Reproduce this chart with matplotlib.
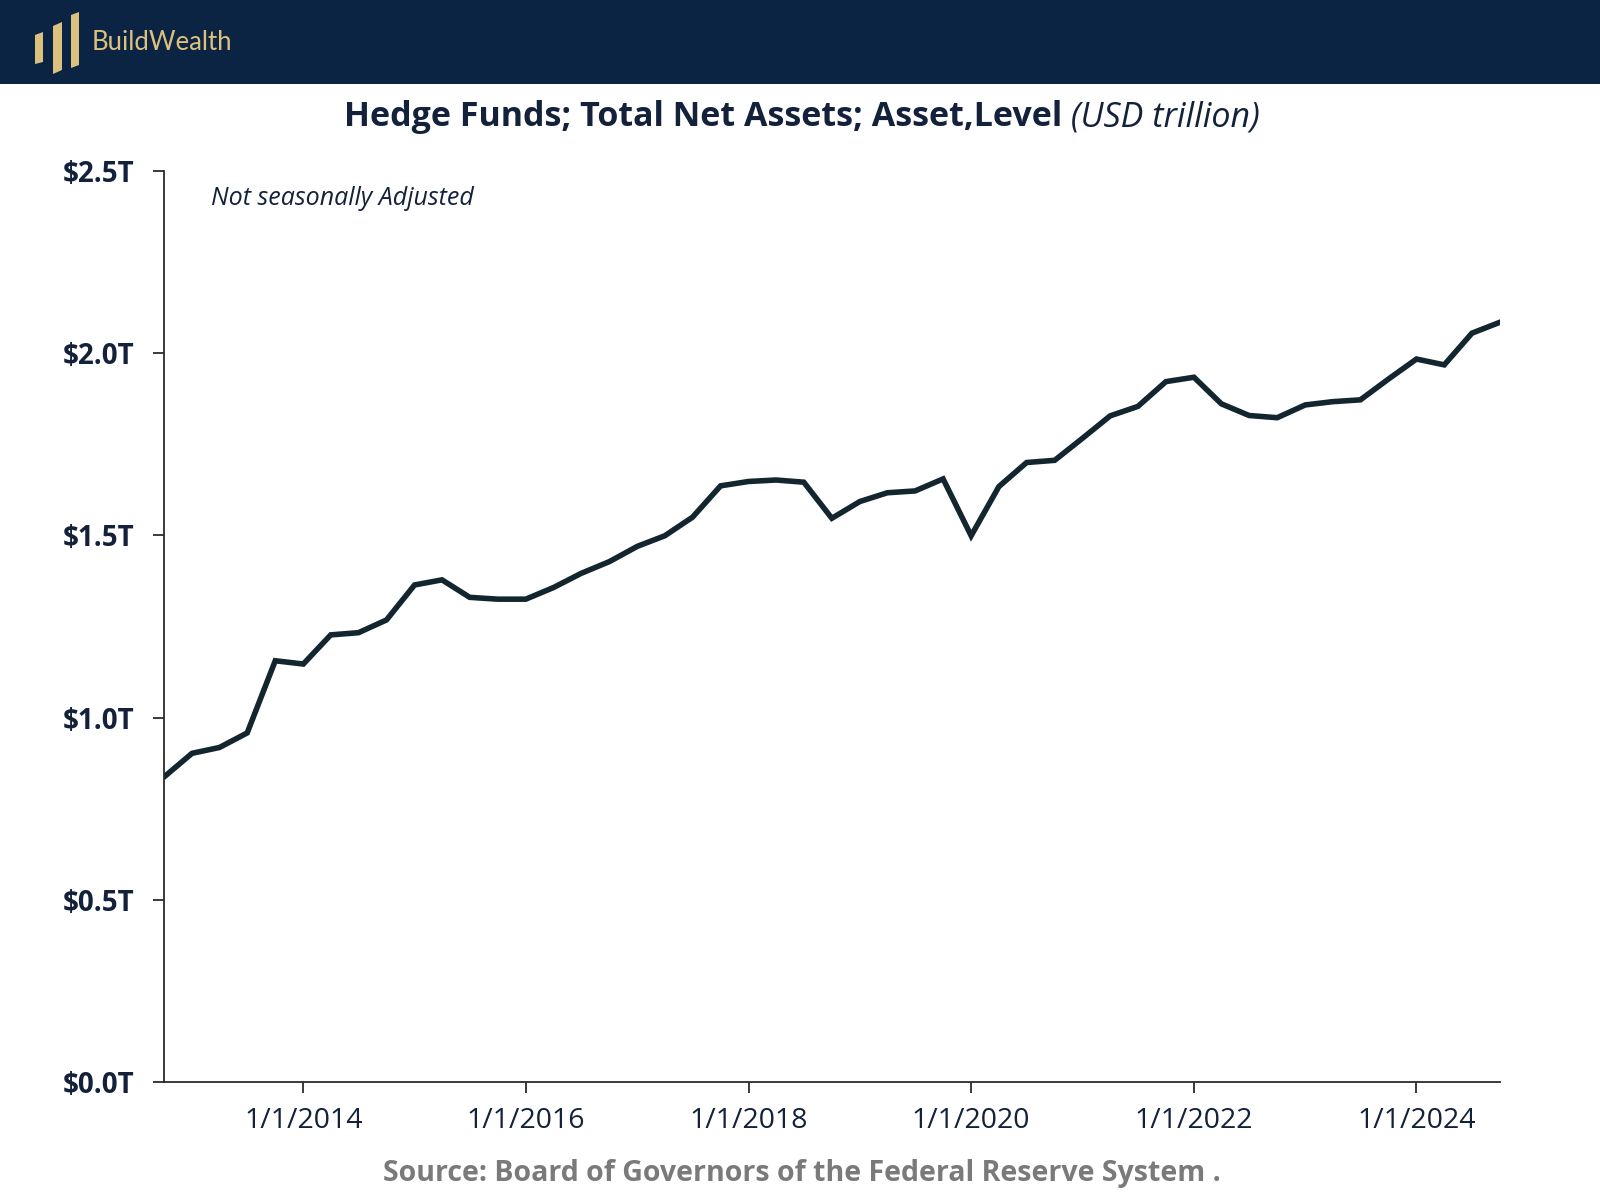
import matplotlib
matplotlib.use("Agg")
import matplotlib.pyplot as plt
from matplotlib.patches import Rectangle, Polygon
import pandas as pd

# quarterly, 10/1/2012 .. 10/1/2024, USD trillion
dates = pd.date_range("2012-10-01", periods=49, freq="QS")
assets = [0.837, 0.902, 0.918, 0.958, 1.156, 1.147, 1.227, 1.233, 1.268, 1.364,
          1.378, 1.330, 1.325, 1.325, 1.357, 1.396, 1.428, 1.470, 1.499, 1.550,
          1.636, 1.648, 1.652, 1.646, 1.547, 1.593, 1.617, 1.622, 1.655, 1.499,
          1.634, 1.700, 1.706, 1.767, 1.828, 1.854, 1.922, 1.934, 1.861, 1.829,
          1.823, 1.858, 1.867, 1.872, 1.929, 1.984, 1.968, 2.055, 2.085]

y_ticks = [0.0, 0.5, 1.0, 1.5, 2.0, 2.5]
y_labels = ["$0.0T", "$0.5T", "$1.0T", "$1.5T", "$2.0T", "$2.5T"]
x_tick_years = [2014, 2016, 2018, 2020, 2022, 2024]

navy = "#0c2444"
gold = "#dcc17e"
ink = "#13252f"
dark = "#2b2b2b"

plt.rcParams["font.family"] = ["Open Sans", "DejaVu Sans"]

fig = plt.figure(figsize=(16, 12), dpi=100)
W, H = 1600, 1200

# header band
fig.patches.append(Rectangle((0, 1 - 84 / H), 1, 84 / H, transform=fig.transFigure,
                             facecolor=navy, edgecolor="none", zorder=0))

def px(x, y):
    return (x / W, 1 - y / H)

# logo bars (pixel coords, top-left origin)
bars = [
    [(35, 35), (43, 32), (43, 62), (35, 64)],
    [(53, 26), (62, 22), (62, 70), (53, 74)],
    [(71, 15), (79, 12), (79, 65), (71, 68)],
]
for b in bars:
    fig.patches.append(Polygon([px(*p) for p in b], closed=True, transform=fig.transFigure,
                               facecolor=gold, edgecolor="none", zorder=1))
fig.text(92 / W, 1 - 43 / H, "BuildWealth", color=gold, fontsize=18.5,
         family=["Lato", "Open Sans"], ha="left", va="center")

# title: bold part + italic unit, centred together
t1 = fig.text(0, 1 - 117 / H, "Hedge Funds; Total Net Assets; Asset,Level", fontsize=24.5,
              fontweight="bold", color="#13223a", ha="left", va="center")
t2 = fig.text(0, 1 - 117 / H, " (USD trillion)", fontsize=24.5, fontstyle="italic",
              color="#13223a", ha="left", va="center")
fig.canvas.draw()
r = fig.canvas.get_renderer()
w1 = t1.get_window_extent(r).width
w2 = t2.get_window_extent(r).width
x0 = 802 - (w1 + w2) / 2
t1.set_x(x0 / W)
t2.set_x((x0 + w1) / W)

ax = fig.add_axes([164 / W, 1 - 1082 / H, (1500 - 164) / W, (1082 - 171) / H])
ax.plot(dates, assets, color=ink, linewidth=4, solid_joinstyle="miter")

ax.set_ylim(0, 2.5)
ax.set_xlim(dates[0], dates[-1])
ax.set_yticks(y_ticks)
ax.set_yticklabels(y_labels)
xt = [pd.Timestamp(f"{y}-01-01") for y in x_tick_years]
ax.set_xticks(xt)
ax.set_xticklabels([f"1/1/{y}" for y in x_tick_years])

for s in ["top", "right"]:
    ax.spines[s].set_visible(False)
for s in ["left", "bottom"]:
    ax.spines[s].set_color(dark)
    ax.spines[s].set_linewidth(1.3)
ax.tick_params(axis="y", length=8, width=1.3, color=dark, pad=13, labelsize=20,
               labelcolor="#13223a")
ax.tick_params(axis="x", length=8, width=1.3, color=dark, pad=10, labelsize=20.5,
               labelcolor="#13223a")
for lab in ax.get_yticklabels():
    lab.set_fontweight("bold")

ax.text(0.035, 0.97, "Not seasonally Adjusted", transform=ax.transAxes, fontsize=18,
        fontstyle="italic", color="#13223a", ha="left", va="center")

fig.text(802 / W, 1 - 1174 / H, "Source: Board of Governors of the Federal Reserve System .",
         fontsize=20.5, fontweight="bold", color="#7a7a7a", ha="center", va="center")

fig.savefig("out.png", dpi=100, facecolor="white")
